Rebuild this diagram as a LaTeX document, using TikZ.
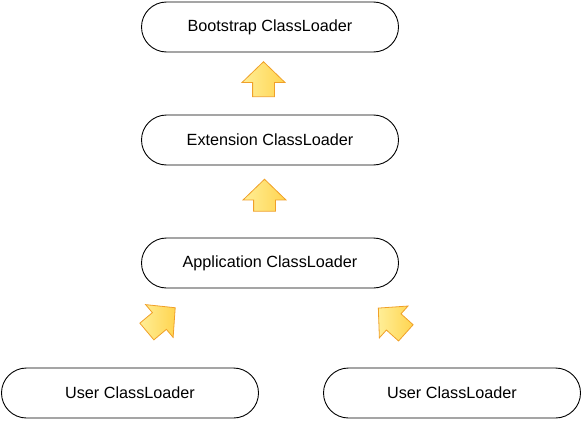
\documentclass[tikz,border=0pt]{standalone}
\usepackage{fontspec}
\setmainfont{Liberation Sans}
\usetikzlibrary{shapes.arrows}
\begin{document}
\begin{tikzpicture}[x=1pt,y=-1pt,
  loader/.style={draw=black, line width=0.9pt, rounded corners=25pt, minimum width=257pt, minimum height=50pt, inner sep=0pt, font=\fontsize{16.2}{19}\selectfont},
  blockarrow/.style={single arrow, draw={rgb,255:red,240;green,160;blue,40}, line width=0.8pt,
     left color={rgb,255:red,255;green,238;blue,150}, right color={rgb,255:red,255;green,212;blue,80},
     minimum height=35pt, inner xsep=0pt, inner ysep=10.5pt, single arrow head extend=10.5pt,
     single arrow head indent=0pt, single arrow tip angle=92}]
\useasboundingbox (0,0) rectangle (583,420);
\node[loader] (boot) at (270,27) {Bootstrap ClassLoader};
\node[loader] (ext) at (270,140) {Extension ClassLoader};
\node[loader] (app) at (270,263) {Application ClassLoader};
\node[loader] (user1) at (130,393) {User ClassLoader};
\node[loader] (user2) at (452,393) {User ClassLoader};
\node[blockarrow, rotate=90] (a1) at (263.5,84.5) {};
\node[blockarrow, rotate=90, minimum height=32pt] (a2) at (264.5,200.5) {};
\node[blockarrow, rotate=40, minimum height=37pt] (a3) at (157,323) {};
\node[blockarrow, rotate=138, minimum height=37pt] (a4) at (396,324) {};
\end{tikzpicture}
\end{document}
